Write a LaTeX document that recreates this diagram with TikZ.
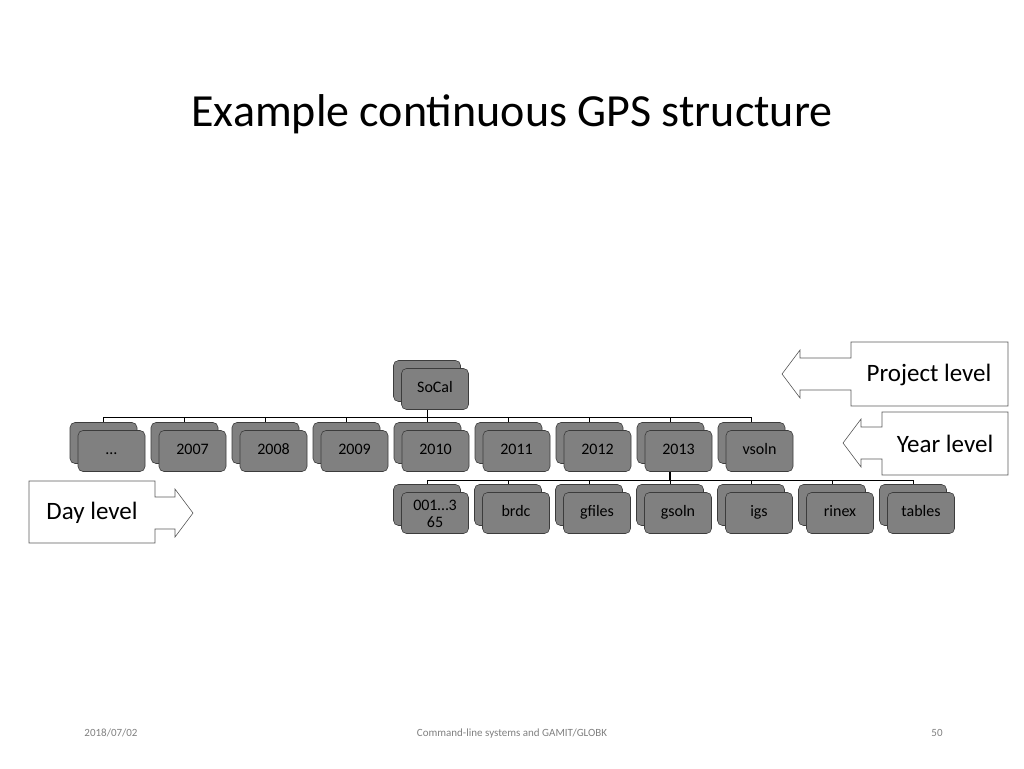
\documentclass[tikz,border=0pt]{standalone}
\usepackage{fontspec}
\setmainfont{Carlito}
\tikzset{every picture/.style={line width=0.75pt}}
\tikzset{
  backcard/.style={draw={rgb,255:red,60;green,60;blue,60},fill={rgb,255:red,128;green,128;blue,128},rounded corners=5pt,minimum width=67pt,minimum height=41pt,inner sep=0pt,line width=0.6pt},
  frontcard/.style={backcard,align=center,font=\fontsize{16}{17}\selectfont},
  callout/.style={draw={rgb,255:red,90;green,90;blue,90},fill=white,line width=0.6pt},
  calltext/.style={font=\fontsize{25}{27}\selectfont},
  foottext/.style={anchor=base,text=gray,font=\fontsize{11}{12}\selectfont},
  treeline/.style={line width=0.6pt}
}
\newcommand{\dircard}[4]{%
  \node[backcard] (#1b) at (#2-8,#3-8) {};
  \node[frontcard] (#1) at (#2,#3) {\strut#4};
}
\begin{document}
\begin{tikzpicture}[x=1pt,y=-1pt]
\useasboundingbox (0,0) rectangle (1024,768);
% title and footer
\node (title) at (512,114) {\fontsize{46}{50}\selectfont Example continuous GPS structure};
\node[foottext] (date) at (111,736) {2018/07/02};
\node[foottext] (foot) at (512,736) {Command-line systems and GAMIT/GLOBK};
\node[foottext] (page) at (937,736) {50};
% tree lines
\coordinate (yrbar) at (427,417);
\coordinate (daybar) at (670,480);
\draw[treeline] (yrbar) -- (103.5,417) (yrbar) -- (751,417);
\draw[treeline] (427,480) -- (913,480);
\draw[treeline] (427,398) -- (yrbar);
\draw[line width=1.5pt] (670,472) -- (daybar);
% cards
\dircard{socal}{435}{389}{SoCal}
\foreach \t [count=\i] in {\dots,2007,2008,2009,2010,2011,2012,2013,vsoln}{
  \draw[treeline] (22.5+81*\i,417) -- (22.5+81*\i,423);
  \dircard{yr\i}{30.5+81*\i}{451}{\t}
}
\foreach \t [count=\i] in {{001\dots3\\65},brdc,gfiles,gsoln,igs,rinex,tables}{
  \draw[treeline] (346+81*\i,480) -- (346+81*\i,485);
  \dircard{day\i}{354+81*\i}{513}{\t}
}
% level callouts
\draw[callout] (851,342) -- (1008,342) -- (1008,406) -- (851,406) -- (851,390) -- (800,390) -- (800,398) -- (782,374) -- (800,350) -- (800,358) -- (851,358) -- cycle;
\node[calltext] (proj) at (929,375) {Project level};
\draw[callout] (882,412) -- (1008,412) -- (1008,475) -- (882,475) -- (882,459) -- (861,459) -- (861,467) -- (843,443) -- (861,419) -- (861,427) -- (882,427) -- cycle;
\node[calltext] (year) at (945,444) {Year level};
\draw[callout] (29,481) -- (155,481) -- (155,497) -- (175,497) -- (175,489) -- (193,513) -- (175,537) -- (175,529) -- (155,529) -- (155,543) -- (29,543) -- cycle;
\node[calltext] (day) at (92,513) {Day level};
\end{tikzpicture}
\end{document}
